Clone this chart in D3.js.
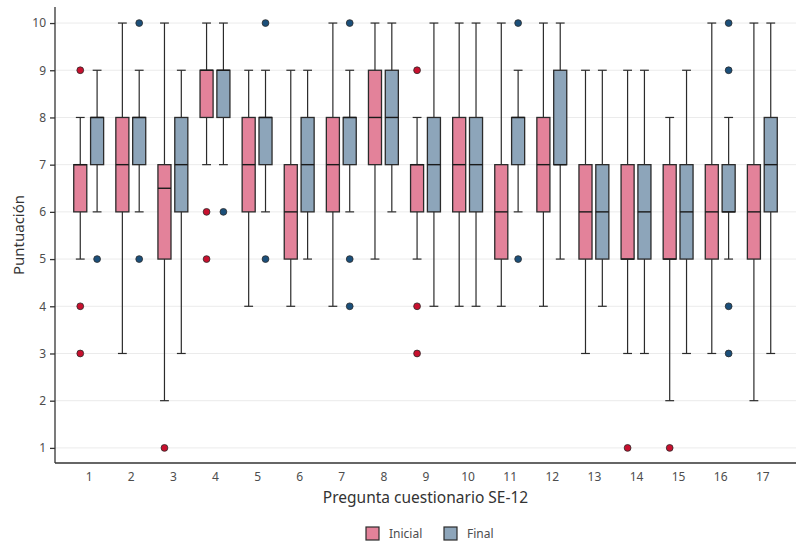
<!DOCTYPE html>
<html>
<head>
<meta charset="utf-8">
<script src="https://cdn.jsdelivr.net/npm/d3@7"></script>
<style>
  html, body { margin: 0; padding: 0; background: #fff; }
  svg { display: block; font-family: "Noto Sans", "Open Sans", sans-serif; }
</style>
</head>
<body>
<svg id="chart" width="803" height="543"></svg>
<script>
// ---- Data ----
const preguntas = [1,2,3,4,5,6,7,8,9,10,11,12,13,14,15,16,17];
const yTicks = [1,2,3,4,5,6,7,8,9,10];
const grupos = ["Inicial", "Final"];

const inicialMin = [5,3,2,7,4,4,4,5,5,4,4,4,3,3,2,3,2];
const inicialQ1  = [6,6,5,8,6,5,6,7,6,6,5,6,5,5,5,5,5];
const inicialMed = [7,7,6.5,9,7,6,7,8,7,7,6,7,6,5,5,6,6];
const inicialQ3  = [7,8,7,9,8,7,8,9,7,8,7,8,7,7,7,7,7];
const inicialMax = [8,10,10,10,9,9,10,10,8,10,10,10,9,9,8,10,10];
const inicialOut = [[9,4,3],[],[1],[6,5],[],[],[],[],[9,4,3],[],[],[],[],[1],[1],[],[]];

const finalMin = [6,6,3,7,6,5,6,6,4,4,6,5,4,3,3,5,3];
const finalQ1  = [7,7,6,8,7,6,7,7,6,6,7,7,5,5,5,6,6];
const finalMed = [8,8,7,9,8,7,8,8,7,7,8,7,6,6,6,6,7];
const finalQ3  = [8,8,8,9,8,8,8,9,8,8,8,9,7,7,7,7,8];
const finalMax = [9,9,9,10,9,9,9,10,10,10,9,10,9,9,9,8,10];
const finalOut = [[5],[10,5],[],[6],[10,5],[],[10,5,4],[],[],[],[10,5],[],[],[],[],[10,9,4,3],[]];

const fillColors  = { Inicial: "#E3829A", Final: "#8DA5BA" };
const pointColors = { Inicial: "#C8102E", Final: "#1B4F7A" };

// ---- Build table ----
const boxes = [];
preguntas.forEach((p, i) => {
  boxes.push({ q: p, g: "Inicial", min: inicialMin[i], q1: inicialQ1[i], med: inicialMed[i], q3: inicialQ3[i], max: inicialMax[i], out: inicialOut[i] });
  boxes.push({ q: p, g: "Final", min: finalMin[i], q1: finalQ1[i], med: finalMed[i], q3: finalQ3[i], max: finalMax[i], out: finalOut[i] });
});

// ---- Layout ----
const svg = d3.select("#chart");
const pLeft = 55, pRight = 796, pTop = 7, pBottom = 463;

const x = d3.scaleLinear().domain([0.2, 17.8]).range([pLeft, pRight]);
const y = d3.scaleLinear().domain([0.68, 10.34]).range([pBottom, pTop]);
const dodge = d3.scaleOrdinal().domain(grupos).range([-0.2, 0.2]);
const boxW = x(0.31) - x(0);
const capW = x(0.21) - x(0);

// gridlines
svg.append("g").selectAll("line").data(yTicks).join("line")
  .attr("x1", pLeft).attr("x2", pRight)
  .attr("y1", d => y(d)).attr("y2", d => y(d))
  .attr("stroke", "#ebebeb").attr("stroke-width", 1);

const cx = d => x(d.q + dodge(d.g));

const gB = svg.append("g");
const bx = gB.selectAll("g.box").data(boxes).join("g").attr("class", "box");

// whiskers
bx.append("line")
  .attr("x1", cx).attr("x2", cx)
  .attr("y1", d => y(d.max)).attr("y2", d => y(d.min))
  .attr("stroke", "#2b2b2b").attr("stroke-width", 1.2);
bx.append("line")
  .attr("x1", d => cx(d) - capW/2).attr("x2", d => cx(d) + capW/2)
  .attr("y1", d => y(d.max)).attr("y2", d => y(d.max))
  .attr("stroke", "#2b2b2b").attr("stroke-width", 1.2);
bx.append("line")
  .attr("x1", d => cx(d) - capW/2).attr("x2", d => cx(d) + capW/2)
  .attr("y1", d => y(d.min)).attr("y2", d => y(d.min))
  .attr("stroke", "#2b2b2b").attr("stroke-width", 1.2);
// box
bx.append("rect")
  .attr("x", d => cx(d) - boxW/2).attr("width", boxW)
  .attr("y", d => y(d.q3)).attr("height", d => y(d.q1) - y(d.q3))
  .attr("fill", d => fillColors[d.g])
  .attr("stroke", "#2b2b2b").attr("stroke-width", 1.3);
// median
bx.append("line")
  .attr("x1", d => cx(d) - boxW/2).attr("x2", d => cx(d) + boxW/2)
  .attr("y1", d => y(d.med)).attr("y2", d => y(d.med))
  .attr("stroke", "#1a1a1a").attr("stroke-width", 1.4);
// outliers
bx.selectAll("circle").data(d => d.out.map(v => ({ v, d }))).join("circle")
  .attr("cx", o => cx(o.d)).attr("cy", o => y(o.v)).attr("r", 3.4)
  .attr("fill", o => pointColors[o.d.g])
  .attr("stroke", "#2b2b2b").attr("stroke-width", 0.8);

// axes
const yAxis = svg.append("g").attr("transform", `translate(${pLeft},0)`)
  .call(d3.axisLeft(y).tickValues(yTicks).tickSize(5).tickPadding(4));
yAxis.select(".domain").attr("d", `M0,${pTop}V${pBottom}`);
const xAxis = svg.append("g").attr("transform", `translate(0,${pBottom})`)
  .call(d3.axisBottom(x).tickValues(preguntas).tickSize(0).tickPadding(9).tickFormat(d3.format("d")));
xAxis.select(".domain").attr("d", `M${pLeft},0H${pRight}`);

[yAxis, xAxis].forEach(a => {
  a.select(".domain").attr("stroke", "#333").attr("stroke-width", 1.3);
  a.selectAll(".tick line").attr("stroke", "#333").attr("stroke-width", 1.3);
  a.selectAll(".tick text").attr("fill", "#4d4d4d").style("font-size", "12px")
    .style("font-family", "'Noto Sans', 'Open Sans', sans-serif");
});

// axis titles
svg.append("text")
  .attr("x", (pLeft + pRight) / 2).attr("y", 503)
  .attr("text-anchor", "middle").attr("fill", "#333")
  .style("font-size", "15.5px").text("Pregunta cuestionario SE-12");
svg.append("text")
  .attr("transform", `translate(24,${(pTop + pBottom) / 2}) rotate(-90)`)
  .attr("text-anchor", "middle").attr("fill", "#333")
  .style("font-size", "15px").text("Puntuación");

// legend
const legX = [366, 444];
const lg = svg.append("g").selectAll("g").data(grupos).join("g")
  .attr("transform", (d, i) => `translate(${legX[i]},527)`);
lg.append("rect").attr("width", 13).attr("height", 13)
  .attr("fill", d => fillColors[d]).attr("stroke", "#2b2b2b").attr("stroke-width", 1.2);
lg.append("text").attr("x", 23).attr("y", 11)
  .attr("fill", "#4d4d4d").style("font-size", "12px").text(d => d);
</script>
</body>
</html>
